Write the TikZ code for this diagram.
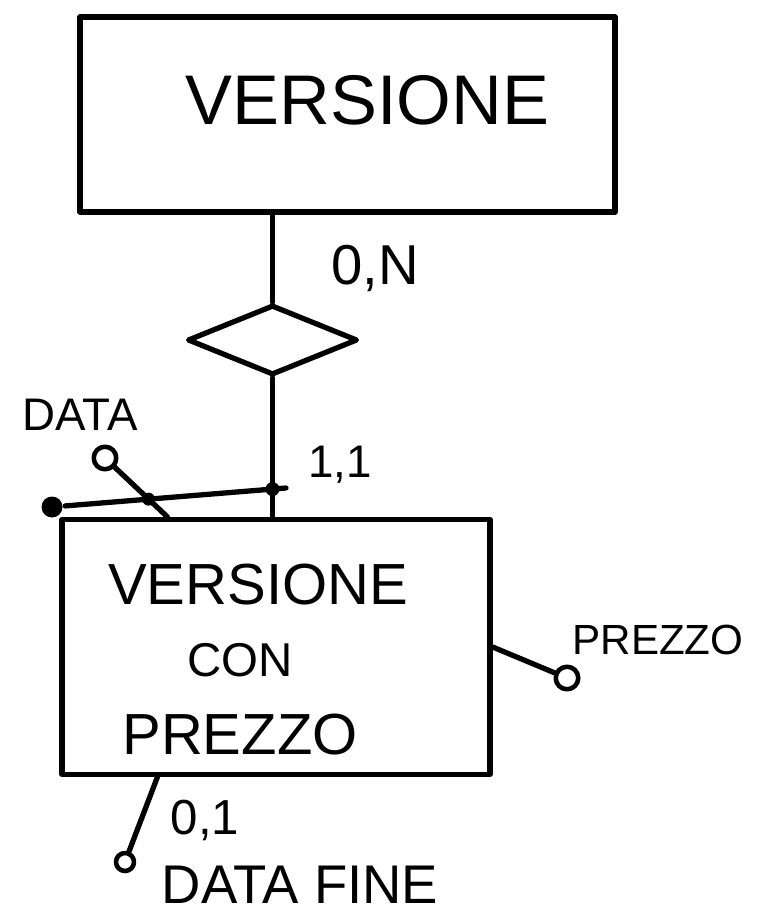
\documentclass[tikz,border=0pt]{standalone}
\usepackage{fontspec}
\setmainfont{Liberation Sans}
\usepackage{tikz}
\usetikzlibrary{calc,positioning,shapes.geometric}

\begin{document}
\begin{tikzpicture}[line width=3pt, line cap=round, line join=round,
		entity/.style={draw, rectangle, inner sep=0pt},
		relation/.style={draw, diamond, inner sep=0pt, minimum width=3.4cm, minimum height=1.4cm},
		attr/.style={draw, circle, fill=white, inner sep=0pt, minimum size=#1, line width=2.6pt},
		attr/.default=0.45cm,
		iddot/.style={fill, circle, inner sep=0pt, minimum size=#1},
		iddot/.default=0.3cm,
		hand/.style={font=\fontsize{#1}{#1}\selectfont},
		hand/.default=30]
			\useasboundingbox (0,0) rectangle (15.3,-18.4);
			
			\node[entity, minimum width=10.7cm, minimum height=3.9cm] (versione) at (6.95,-2.29) {};
			\node[hand=40] (versionetxt) at (7.35,-2.0) {VERSIONE};
			
			\node[relation] (rel) at (5.45,-6.8) {};
			
			\node[entity, minimum width=8.56cm, minimum height=5.1cm] (vcp) at (5.52,-12.94) {};
			\node[hand=33] (vcptxt1) at (5.16,-11.7) {VERSIONE};
			\node[hand=27] (vcptxt2) at (4.8,-13.2) {CON};
			\node[hand=33] (vcptxt3) at (4.8,-14.7) {PREZZO};
			
			\draw (rel.north) -- (rel.north |- versione.south);
			\coordinate (relhead) at (rel.south);
			\draw (relhead) -- (relhead |- vcp.north) coordinate (relfoot);
			\node[hand=32] (card0n) at (7.5,-5.36) {0,N};
			\node[hand=26] (card11) at (6.8,-9.3) {1,1};
			
			\node[attr] (dataattr) at (2.1,-9.16) {};
			\coordinate (datafoot) at ($(vcp.north west)+(2.16,0)$);
			\draw (dataattr) -- (datafoot);
			\node[hand=26] (datalbl) at (1.6,-8.3) {DATA};
			
			\node[iddot=0.42cm] (idstart) at (1.04,-10.14) {};
			\coordinate (idend) at (5.72,-9.76);
			\draw (idstart) -- (idend);
			\node[iddot=0.28cm] (idrel) at (intersection of relhead--relfoot and idstart--idend) {};
			\node[iddot=0.26cm] (iddata) at (intersection of dataattr--datafoot and idstart--idend) {};
			
			\node[attr] (prezzoattr) at (11.34,-13.56) {};
			\draw (vcp.east) -- (prezzoattr);
			\node[hand=24] (prezzolbl) at (13.16,-12.8) {PREZZO};
			
			\node[attr=0.36cm] (fineattr) at (2.5,-17.24) {};
			\coordinate (finefoot) at ($(vcp.south west)+(1.96,0)$);
			\draw (finefoot) -- (fineattr);
			\node[hand=28] (card01) at (4.1,-16.4) {0,1};
			\node[hand=31] (finelbl) at (6.0,-17.7) {DATA FINE};
	\end{tikzpicture}
\end{document}
